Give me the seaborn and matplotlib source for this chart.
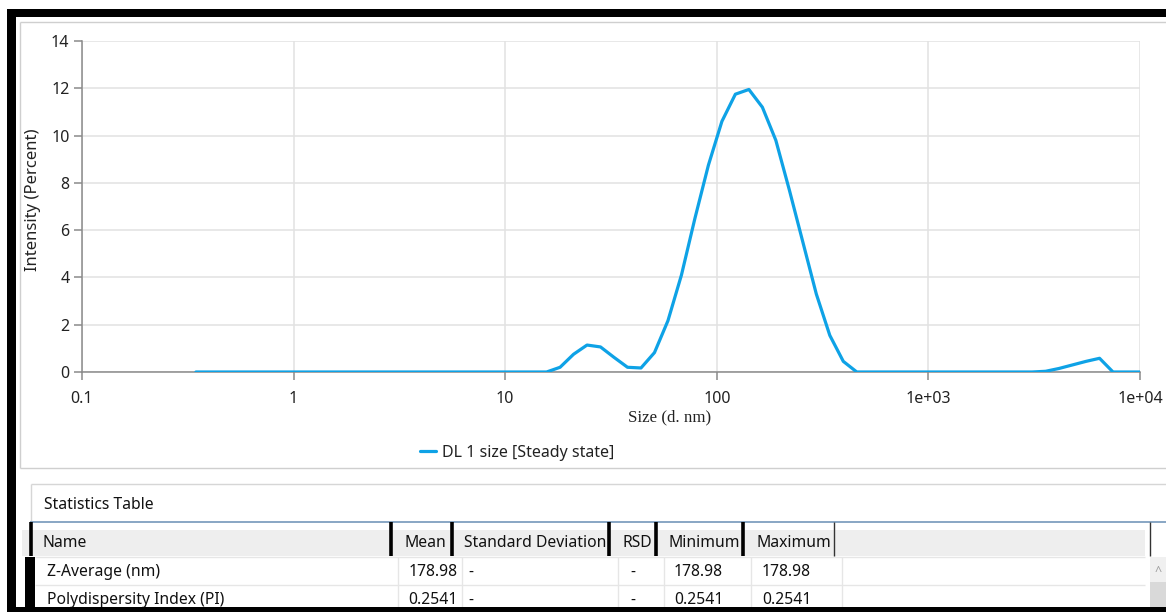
import numpy as np
import pandas as pd
import matplotlib
matplotlib.use("Agg")
import matplotlib.pyplot as plt
import seaborn as sns
from matplotlib.patches import Rectangle
from matplotlib.lines import Line2D
from matplotlib.ticker import FixedLocator, FixedFormatter, NullLocator

# ---------------- data ----------------
sizes_nm = [0.3455, 0.4, 0.4632, 0.5365, 0.6213, 0.7195, 0.8332, 0.9649, 1.117, 1.294,
            1.499, 1.736, 2.010, 2.328, 2.696, 3.122, 3.615, 4.187, 4.849, 5.615,
            6.503, 7.531, 8.721, 10.10, 11.70, 13.54, 15.69, 18.17, 21.04, 24.36,
            28.21, 32.67, 37.84, 43.82, 50.75, 58.77, 68.06, 78.82, 91.28, 105.7,
            122.4, 141.8, 164.2, 190.1, 220.2, 255.0, 295.3, 342.0, 396.1, 458.7,
            531.2, 615.1, 712.4, 825.0, 955.4, 1106, 1281, 1484, 1718, 1990,
            2305, 2669, 3091, 3580, 4145, 4801, 5560, 6439, 7456, 8635, 10000]
intensity_pct = [0, 0, 0, 0, 0, 0, 0, 0, 0, 0,
                 0, 0, 0, 0, 0, 0, 0, 0, 0, 0,
                 0, 0, 0, 0, 0, 0, 0, 0.2, 0.75, 1.14,
                 1.06, 0.62, 0.2, 0.17, 0.82, 2.17, 4.1, 6.5, 8.75, 10.6,
                 11.75, 11.95, 11.2, 9.8, 7.7, 5.5, 3.3, 1.55, 0.45, 0.0,
                 0, 0, 0, 0, 0, 0, 0, 0, 0, 0,
                 0, 0, 0, 0.03, 0.15, 0.3, 0.45, 0.58, 0, 0, 0]
series_label = "DL 1 size [Steady state]"

x_ticks = [0.1, 1, 10, 100, 1000, 10000]
x_tick_labels = ["0.1", "1", "10", "100", "1e+03", "1e+04"]
y_ticks = [0, 2, 4, 6, 8, 10, 12, 14]

table_title = "Statistics Table"
table_columns = ["Name", "Mean", "Standard Deviation", "RSD", "Minimum", "Maximum"]
row_names = ["Z-Average (nm)", "Polydispersity Index (PI)"]
row_mean = ["178.98", "0.2541"]
row_sd = ["-", "-"]
row_rsd = ["-", "-"]
row_min = ["178.98", "0.2541"]
row_max = ["178.98", "0.2541"]

# ---------------- style ----------------
W, H = 1166, 612
sns.set_theme(style="white")
UI = ["Noto Sans", "DejaVu Sans"]
plt.rcParams["font.family"] = UI

fig = plt.figure(figsize=(W / 100, H / 100), dpi=100)
fig.patch.set_facecolor("white")

def fx(x):
    return x / W

def fy(y):
    return 1 - y / H

ax = fig.add_axes([fx(82), fy(372), fx(1140) - fx(82), fy(41) - fy(372)])

df = pd.DataFrame({"Size": sizes_nm, "Intensity": intensity_pct})
sns.lineplot(data=df, x="Size", y="Intensity", ax=ax, color="#0ea2e6",
             linewidth=2.3, estimator=None, sort=True, label=series_label, zorder=3)

ax.set_xscale("log")
ax.set_xlim(0.1, 10000)
ax.set_ylim(0, 14)
ax.xaxis.set_major_locator(FixedLocator(x_ticks))
ax.xaxis.set_major_formatter(FixedFormatter(x_tick_labels))
ax.xaxis.set_minor_locator(NullLocator())
ax.set_yticks(y_ticks)
ax.grid(True, color="#e2e2e2", linewidth=1.1, zorder=0)
for s in ["top", "right"]:
    ax.spines[s].set_visible(False)
for s in ["left", "bottom"]:
    ax.spines[s].set_color("#8a8a8a")
    ax.spines[s].set_linewidth(1.1)
ax.tick_params(axis="both", which="major", direction="out", length=6, width=1.1,
               color="#8a8a8a", labelsize=11.5, labelcolor="#222222", pad=3,
               left=True, bottom=True)
ax.tick_params(axis="x", pad=8)
ax.set_xlabel("Size (d. nm)", family="Liberation Serif", fontsize=12.2,
              color="#222222")
ax.set_ylabel("Intensity (Percent)", fontsize=12, color="#222222")
# label positions in axes fraction
ax.xaxis.set_label_coords((669.5 - 82) / (1140 - 82), -(417 - 372) / (372 - 41), transform=ax.transAxes)
ax.xaxis.label.set_va("center")
ax.yaxis.set_label_coords(-(82 - 33) / (1140 - 82), (372 - 200) / (372 - 41), transform=ax.transAxes)
ax.yaxis.label.set_va("center")
ax.set_facecolor("white")

leg = ax.legend(loc="center", bbox_to_anchor=(fx(517), fy(453)),
                bbox_transform=fig.transFigure, frameon=False, fontsize=11.5,
                handlelength=1.0, handletextpad=0.35, borderaxespad=0,
                borderpad=0)
for t in leg.get_texts():
    t.set_color("#222222")

# ---------------- frame (window chrome) ----------------
def rect(x0, y0, x1, y1, fc, ec="none", lw=0, z=0):
    fig.add_artist(Rectangle((fx(x0), fy(y1)), fx(x1) - fx(x0), fy(y0) - fy(y1),
                             transform=fig.transFigure, facecolor=fc, edgecolor=ec,
                             linewidth=lw, zorder=z))

def line(x0, y0, x1, y1, c, lw, z=1):
    fig.add_artist(Line2D([fx(x0), fx(x1)], [fy(y0), fy(y1)], transform=fig.transFigure,
                          color=c, linewidth=lw, zorder=z, solid_capstyle="butt"))

TXT = dict(fontsize=11.3, color="#111111", va="center", zorder=4)

# outer black border
rect(7, 9, W, 17, "black", z=5)
rect(7, 9, 16, H, "black", z=5)
rect(7, 607, W, H, "black", z=5)
# chart panel border
line(19.5, 21.5, W, 21.5, "#cfcfcf", 1.0)
line(19.5, 21.5, 19.5, 467.5, "#cfcfcf", 1.0)
line(19.5, 467.5, W, 467.5, "#cfcfcf", 1.0)
# statistics panel
line(30.5, 483.5, W, 483.5, "#d6d6d6", 1.0)
line(30.5, 483.5, 30.5, 521, "#d6d6d6", 1.0)
fig.text(fx(44), fy(505), table_title, ha="left", **TXT)
line(30, 521.5, W, 521.5, "#7f9fbf", 1.3, z=3)
# header background
rect(22, 530, 1145, 556, "#eeeeee", z=1)
header_x = [42, 405, 464, 622, 668, 756]
for hx, name in zip(header_x, table_columns):
    fig.text(fx(hx), fy(543), name, ha="left", **TXT)
for sx in [31, 391, 452, 609, 656, 743]:
    line(sx, 522, sx, 556, "black", 2.6, z=4)
for sx in [834, 1150]:
    line(sx, 522, sx, 556, "#333333", 1.0, z=4)
# rows
rect(25, 557, 35, H, "black", z=4)
line(35, 557, 1145, 557, "#e6e6e6", 1.0)
line(35, 584.5, 1145, 584.5, "#e6e6e6", 1.0)
for sx in [398, 462, 618, 664, 751, 842]:
    line(sx, 557, sx, 607, "#e6e6e6", 1.0)
row_y = [572, 600]
for i, ry in enumerate(row_y):
    fig.text(fx(47), fy(ry), row_names[i], ha="left", **TXT)
    fig.text(fx(458), fy(ry), row_mean[i], ha="right", **TXT)
    fig.text(fx(468), fy(ry), row_sd[i], ha="left", **TXT)
    fig.text(fx(633), fy(ry), row_rsd[i], ha="center", **TXT)
    fig.text(fx(674), fy(ry), row_min[i], ha="left", **TXT)
    fig.text(fx(762), fy(ry), row_max[i], ha="left", **TXT)
# scrollbar
rect(1150, 557, W, 607, "#f0f0f0", z=1)
rect(1150, 582, W, 607, "#d9d9d9", z=1)
fig.text(fx(1158), fy(572), "^", fontsize=9, color="#a0a0a0", va="center", ha="center")

fig.savefig("out.png", dpi=100)
